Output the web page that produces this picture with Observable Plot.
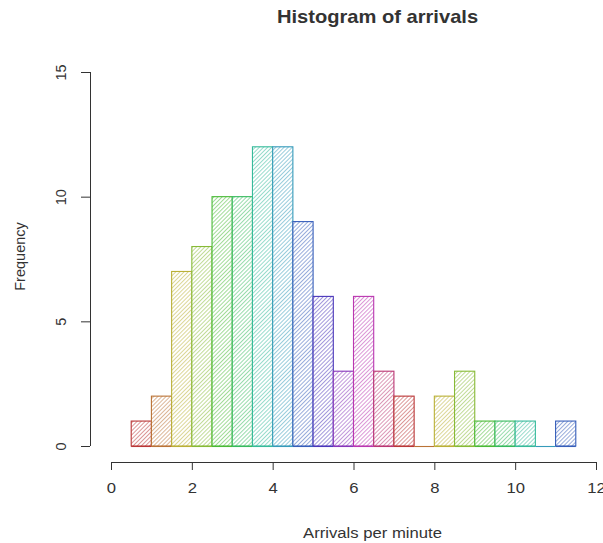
<!DOCTYPE html>
<html>
<head>
<meta charset="utf-8">
<script src="https://cdn.jsdelivr.net/npm/d3@7"></script>
<script src="https://cdn.jsdelivr.net/npm/@observablehq/plot@0.6"></script>
<style>
  body { margin: 0; background: #fff; }
  #chart svg { display: block; }
</style>
</head>
<body>
<div id="chart"></div>
<script>
// ---- data ----
const binEdges = [0.5, 1, 1.5, 2, 2.5, 3, 3.5, 4, 4.5, 5, 5.5, 6, 6.5, 7, 7.5, 8, 8.5, 9, 9.5, 10, 10.5, 11, 11.5];
const counts   = [1, 2, 7, 8, 10, 10, 12, 12, 9, 6, 3, 6, 3, 2, 0, 2, 3, 1, 1, 1, 0, 1];
const paletteSize = 13;           // rainbow(13), recycled
const xTicks = [0, 2, 4, 6, 8, 10, 12];
const yTicks = [0, 5, 10, 15];
const titleText = "Histogram of arrivals";
const xLabel = "Arrivals per minute";
const yLabel = "Frequency";

// ---- palette (muted rainbow) ----
const palette = d3.range(paletteSize).map(i => d3.hsl(i / paletteSize * 360, 0.55, 0.47).formatHex());

const bins = counts.map((c, i) => ({
  x1: binEdges[i], x2: binEdges[i + 1], y: c, i,
  color: palette[i % paletteSize],
  pattern: `url(#hatch${i % paletteSize})`
}));

const font = "'Liberation Sans', Arimo, Arial, Helvetica, sans-serif";
const ink = "#333";

const chart = Plot.plot({
  width: 603,
  height: 543,
  marginTop: 72,
  marginBottom: 81,
  marginLeft: 90,
  marginRight: 7,
  x: { domain: [xTicks[0], xTicks[xTicks.length - 1]], insetLeft: 21 },
  y: { domain: [yTicks[0], yTicks[yTicks.length - 1]], insetBottom: 16 },
  color: { type: "identity" },
  style: { fontFamily: font, background: "#fff", color: ink, overflow: "visible" },
  marks: [
    // hatched bars
    Plot.rectY(bins, { x1: "x1", x2: "x2", y: "y", fill: "pattern", stroke: "color", strokeWidth: 1.1 }),
    // bottom edges (visible for empty bins)
    Plot.ruleY(bins, { x1: "x1", x2: "x2", y: 0, stroke: "color", strokeWidth: 1.1 }),
    // x axis (R style, detached)
    Plot.ruleY([0], { x1: xTicks[0], x2: xTicks[xTicks.length - 1], dy: 16, stroke: ink, strokeWidth: 1 }),
    Plot.axisX(xTicks, { anchor: "bottom", tickSize: 8, tickPadding: 12, fontSize: 14.5, label: null, stroke: ink, fill: ink }),
    // y axis
    Plot.ruleX([0], { y1: yTicks[0], y2: yTicks[yTicks.length - 1], dx: -21, stroke: ink, strokeWidth: 1 }),
    Plot.axisY(yTicks, { anchor: "left", tickSize: 9, tickFormat: () => "", label: null, stroke: ink }),
    Plot.text(yTicks, { y: d => d, text: d => String(d), frameAnchor: "left", textAnchor: "middle", lineAnchor: "middle", dx: -29.5, rotate: -90, fontSize: 14.5, fill: ink }),
    // labels
    Plot.text([yLabel], { text: d => d, frameAnchor: "left", textAnchor: "middle", lineAnchor: "middle", dx: -70, dy: -11, rotate: -90, fontSize: 14.5, fill: ink }),
    Plot.text([xLabel], { text: d => d, frameAnchor: "bottom", textAnchor: "middle", lineAnchor: "middle", dx: 29, dy: 71, fontSize: 14.5, fill: ink }),
    Plot.text([titleText], { text: d => d, frameAnchor: "top", textAnchor: "middle", lineAnchor: "middle", dx: 34, dy: -55, fontSize: 17.5, fontWeight: "bold", fill: ink })
  ]
});

// hatch patterns (density lines at 45°)
const defs = d3.select(chart).insert("defs", ":first-child");
palette.forEach((c, i) => {
  const p = defs.append("pattern")
    .attr("id", `hatch${i}`)
    .attr("patternUnits", "userSpaceOnUse")
    .attr("width", 2.9)
    .attr("height", 2.9)
    .attr("patternTransform", "rotate(45)");
  p.append("rect").attr("width", 2.9).attr("height", 2.9).attr("fill", "#fff");
  p.append("line")
    .attr("x1", 0.5).attr("y1", 0).attr("x2", 0.5).attr("y2", 2.9)
    .attr("stroke", c).attr("stroke-width", 0.8).attr("stroke-opacity", 0.65);
});

// the reference's horizontal lettering is slightly wide: stretch horizontal texts
d3.select(chart).selectAll("text").each(function () {
  const t = this.getAttribute("transform") || "";
  if (t.includes("rotate")) return;
  if (t) {
    this.setAttribute("transform", t + " scale(1.15,1)");
  } else {
    const x = +(this.getAttribute("x") || 0), y = +(this.getAttribute("y") || 0);
    this.setAttribute("transform", `translate(${x},${y}) scale(1.15,1) translate(${-x},${-y})`);
  }
});

document.getElementById("chart").appendChild(chart);
</script>
</body>
</html>
